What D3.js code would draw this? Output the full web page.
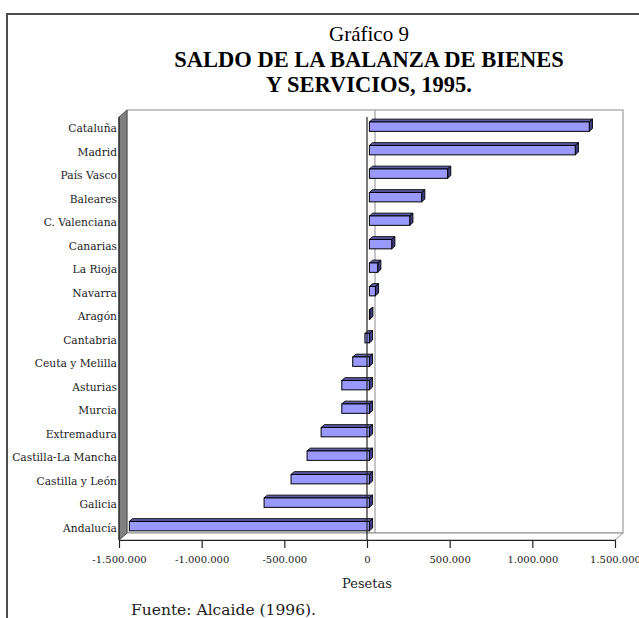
<!DOCTYPE html>
<html>
<head>
<meta charset="utf-8">
<script src="https://cdn.jsdelivr.net/npm/d3@7"></script>
<style>
  body { margin: 0; background: #fff; }
  svg { display: block; }
</style>
</head>
<body>
<div id="chart"></div>
<script>
const width = 639;
const height = 618;

// data
const regiones = [
  "Cataluña", "Madrid", "País Vasco", "Baleares", "C. Valenciana", "Canarias",
  "La Rioja", "Navarra", "Aragón", "Cantabria", "Ceuta y Melilla", "Asturias",
  "Murcia", "Extremadura", "Castilla-La Mancha", "Castilla y León", "Galicia", "Andalucía"
];
const saldo = [
  1330000, 1245000, 473000, 316000, 244000, 135000,
  50000, 36000, 2000, -27000, -101000, -167000,
  -167000, -292000, -377000, -474000, -637000, -1452000
];
const ticks = [-1500000, -1000000, -500000, 0, 500000, 1000000, 1500000];

// 3d depth of the plot box
const depthX = 8;
const depthY = -7;
const barFront = 0.3;
const barBack = 0.7;

const locale = d3.formatLocale({ decimal: ",", thousands: ".", grouping: [3], currency: ["", ""], minus: "-" });
const fmt = locale.format(",");

const x = d3.scaleLinear()
  .domain([-1500000, 1500000])
  .range([119, 615]);

const y = d3.scaleBand()
  .domain(regiones)
  .range([117, 540])
  .padding(0);

const svg = d3.select("#chart")
  .append("svg")
  .attr("width", width)
  .attr("height", height);

// outer frame
svg.append("rect")
  .attr("x", 7)
  .attr("y", 14)
  .attr("width", 660)
  .attr("height", 640)
  .attr("fill", "none")
  .attr("stroke", "#4d4d4d")
  .attr("stroke-width", 2);

// titles
svg.append("text")
  .attr("x", 369)
  .attr("y", 41)
  .attr("text-anchor", "middle")
  .style("font-family", "'Liberation Serif', serif")
  .style("font-size", "21px")
  .text("Gráfico 9");

svg.append("text")
  .attr("x", 369)
  .attr("y", 67)
  .attr("text-anchor", "middle")
  .style("font-family", "'Liberation Serif', serif")
  .style("font-size", "22.5px")
  .style("font-weight", "bold")
  .text("SALDO DE LA BALANZA DE BIENES");

svg.append("text")
  .attr("x", 369)
  .attr("y", 92)
  .attr("text-anchor", "middle")
  .style("font-family", "'Liberation Serif', serif")
  .style("font-size", "22.5px")
  .style("font-weight", "bold")
  .text("Y SERVICIOS, 1995.");

const x0 = x.range()[0];
const x1 = x.range()[1];
const yTop = y.range()[0];
const yBot = y.range()[1];

// back wall
svg.append("rect")
  .attr("x", x0 + depthX)
  .attr("y", yTop + depthY)
  .attr("width", x1 - x0)
  .attr("height", yBot - yTop)
  .attr("fill", "#fff")
  .attr("stroke", "#8c8c8c");

// floor
svg.append("path")
  .attr("d", `M${x0},${yBot}L${x0 + depthX},${yBot + depthY}L${x1 + depthX},${yBot + depthY}L${x1},${yBot}Z`)
  .attr("fill", "#fff")
  .attr("stroke", "#8c8c8c");

// left wall
svg.append("path")
  .attr("d", `M${x0},${yTop}L${x0 + depthX},${yTop + depthY}L${x0 + depthX},${yBot + depthY}L${x0},${yBot}Z`)
  .attr("fill", "#808080")
  .attr("stroke", "#404040")
  .attr("stroke-width", 0.8);

// zero gridline on the back wall
svg.append("line")
  .attr("x1", x(0) + depthX)
  .attr("x2", x(0) + depthX)
  .attr("y1", yTop + depthY)
  .attr("y2", yBot + depthY)
  .attr("stroke", "#8c8c8c");

// bars
const barH = y.bandwidth() * 0.4;
const fx = depthX * barFront, fy = depthY * barFront;
const bx = depthX * (barBack - barFront), by = depthY * (barBack - barFront);

const bars = svg.append("g")
  .selectAll("g")
  .data(regiones.map((r, i) => ({ region: r, value: saldo[i] })))
  .join("g");

bars.each(function (d) {
  const g = d3.select(this);
  const left = Math.min(x(0), x(d.value)) + fx;
  const right = Math.max(x(0), x(d.value)) + fx;
  const top = y(d.region) + y.bandwidth() / 2 - barH / 2 + fy;
  const bottom = top + barH;

  // top face
  g.append("path")
    .attr("d", `M${left},${top}L${left + bx},${top + by}L${right + bx},${top + by}L${right},${top}Z`)
    .attr("fill", "#5c5ca8")
    .attr("stroke", "#000")
    .attr("stroke-width", 0.9)
    .attr("stroke-linejoin", "round");

  // side face
  g.append("path")
    .attr("d", `M${right},${top}L${right + bx},${top + by}L${right + bx},${bottom + by}L${right},${bottom}Z`)
    .attr("fill", "#3d3d80")
    .attr("stroke", "#000")
    .attr("stroke-width", 0.9)
    .attr("stroke-linejoin", "round");

  // front face
  g.append("rect")
    .attr("x", left)
    .attr("y", top)
    .attr("width", right - left)
    .attr("height", barH)
    .attr("fill", "#9999ff")
    .attr("stroke", "#000")
    .attr("stroke-width", 1);
});

// zero line in front
svg.append("line")
  .attr("x1", x(0))
  .attr("x2", x(0))
  .attr("y1", yTop)
  .attr("y2", yBot)
  .attr("stroke", "#222")
  .attr("stroke-width", 1.2);

// category axis line
svg.append("line")
  .attr("x1", x0)
  .attr("x2", x0)
  .attr("y1", yTop)
  .attr("y2", yBot)
  .attr("stroke", "#222")
  .attr("stroke-width", 1.2);

// category labels
svg.append("g")
  .selectAll("text")
  .data(regiones)
  .join("text")
  .attr("x", x0 - 2)
  .attr("y", d => y(d) + y.bandwidth() / 2)
  .attr("dy", "0.35em")
  .attr("text-anchor", "end")
  .style("font-family", "'DejaVu Serif', serif")
  .style("font-size", "10.7px")
  .style("fill", "#222")
  .text(d => d);

// value axis
const xAxis = d3.axisBottom(x)
  .tickValues(ticks)
  .tickFormat(fmt)
  .tickSize(8)
  .tickSizeOuter(0)
  .tickPadding(8);

const axisG = svg.append("g")
  .attr("transform", `translate(0,${yBot})`)
  .call(xAxis);

axisG.select(".domain").attr("stroke", "#222").attr("stroke-width", 1.2);
axisG.selectAll(".tick line").attr("stroke", "#222").attr("stroke-width", 1.2);
axisG.selectAll(".tick text")
  .style("font-family", "'DejaVu Serif', serif")
  .style("font-size", "10px")
  .style("fill", "#222");

svg.append("text")
  .attr("x", 367)
  .attr("y", 588)
  .attr("text-anchor", "middle")
  .style("font-family", "'DejaVu Serif', serif")
  .style("font-size", "13px")
  .style("fill", "#222")
  .text("Pesetas");

svg.append("text")
  .attr("x", 131)
  .attr("y", 615)
  .style("font-family", "'DejaVu Serif', serif")
  .style("font-size", "15.5px")
  .style("fill", "#222")
  .text("Fuente: Alcaide (1996).");
</script>
</body>
</html>
